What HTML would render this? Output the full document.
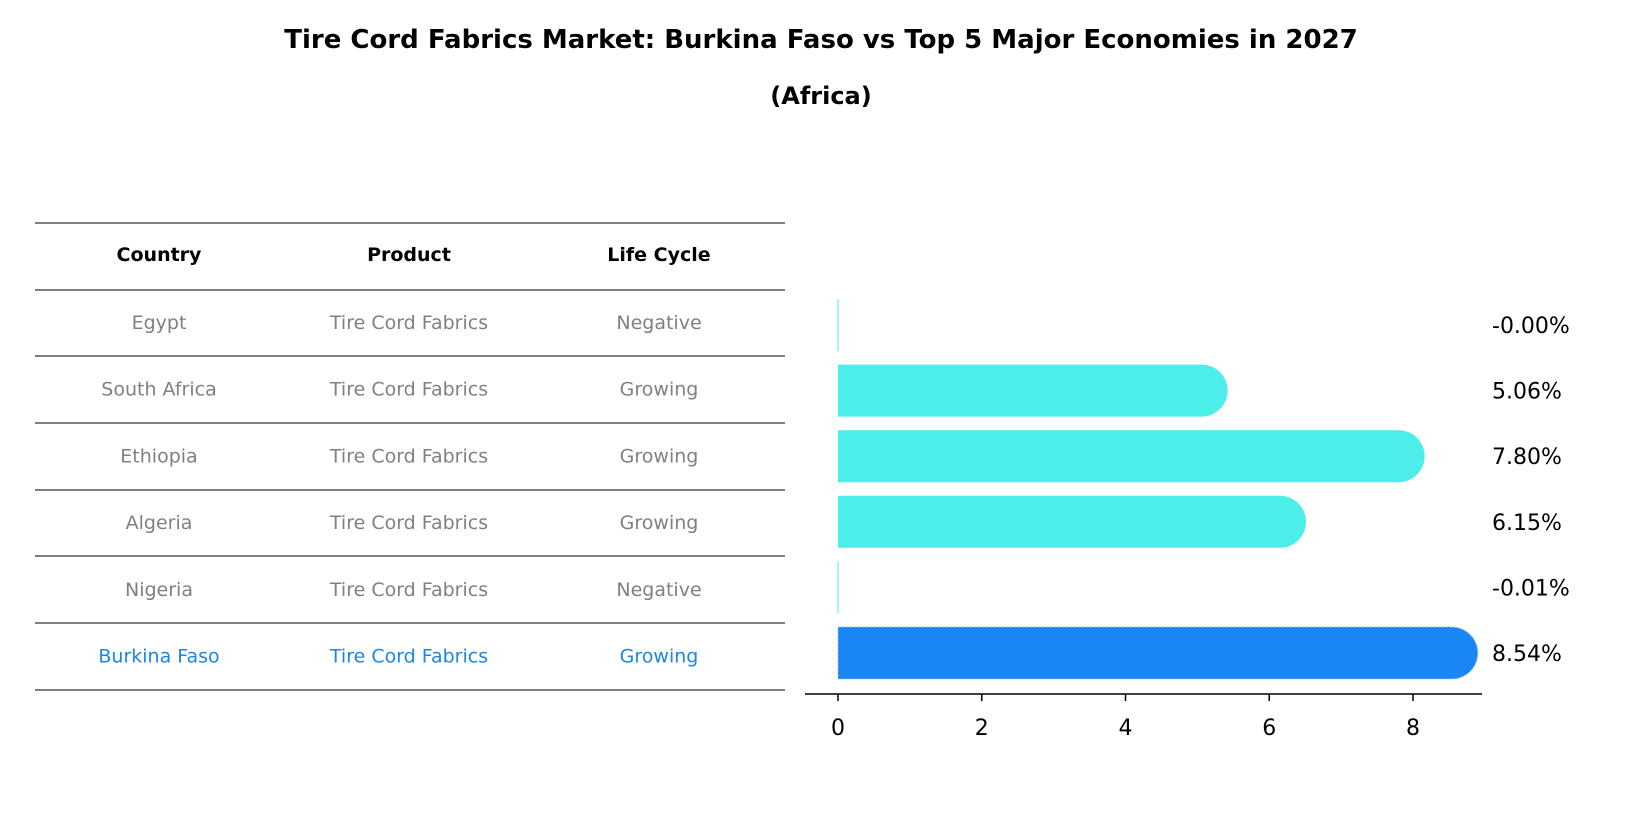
<!DOCTYPE html>
<html><head><meta charset="utf-8"><style>
body{margin:0;background:#fff;font-family:"Liberation Sans","DejaVu Sans",sans-serif;}
svg text{font-family:"DejaVu Sans","Liberation Sans",sans-serif;}
</style></head><body>
<svg width="1643" height="823" xmlns="http://www.w3.org/2000/svg">
<text x="821" y="48" text-anchor="middle" font-size="26" font-weight="bold">Tire Cord Fabrics Market: Burkina Faso vs Top 5 Major Economies in 2027</text>
<text x="821" y="104" text-anchor="middle" font-size="24" font-weight="bold">(Africa)</text>
<g id="table"></g>
<g id="bars"></g>
</svg>
<script>
const countries=["Egypt","South Africa","Ethiopia","Algeria","Nigeria","Burkina Faso"];
const products=["Tire Cord Fabrics","Tire Cord Fabrics","Tire Cord Fabrics","Tire Cord Fabrics","Tire Cord Fabrics","Tire Cord Fabrics"];
const lifecycle=["Negative","Growing","Growing","Growing","Negative","Growing"];
const values=[-0.00,5.06,7.80,6.15,-0.01,8.54];
const valueLabels=["-0.00%","5.06%","7.80%","6.15%","-0.01%","8.54%"];
const ticks=[0,2,4,6,8];
const NS="http://www.w3.org/2000/svg";
function mk(t,a,p){const e=document.createElementNS(NS,t);for(const k in a)e.setAttribute(k,a[k]);p.appendChild(e);return e;}
const tbl=document.getElementById('table');
const cols=[159,409,659];
const lineYs=[223,290,356,423,490,556,623,690];
lineYs.forEach((y,i)=>{const l=mk('line',{x1:35,x2:785,y1:y,y2:y,stroke:'#000','stroke-width':1},tbl);

});
["Country","Product","Life Cycle"].forEach((h,j)=>{const t=mk('text',{x:cols[j],y:261,'text-anchor':'middle','font-size':19,'font-weight':'bold'},tbl);t.textContent=h;

});
countries.forEach((c,i)=>{const y=329+i*66.7;const col=i===5?'#1a86e8':'#808080';
[c,products[i],lifecycle[i]].forEach((v,j)=>{const t=mk('text',{x:cols[j],y:y,'text-anchor':'middle','font-size':19,fill:col},tbl);t.textContent=v;

});});
const g=document.getElementById('bars');
const x0=838,scale=(1413-838)/8;
const X=v=>x0+v*scale;
const rowY=i=>325+i*65.6;
const bh=52;
values.forEach((v,i)=>{const cy=rowY(i);const col=i===5?'#1a86f5':'#4deeea';
const w=Math.max(X(v)-x0,0);
if(w<1){const l=mk('line',{x1:x0,x2:x0,y1:cy-bh/2,y2:cy+bh/2,stroke:col,'stroke-width':1},g);

}
else{const p=mk('path',{d:`M${x0},${cy-bh/2}H${X(v)}A${bh/2},${bh/2} 0 0 1 ${X(v)},${cy+bh/2}H${x0}Z`,fill:col},g);
if(i===5){p.setAttribute('stroke','#9cc8f5');p.setAttribute('stroke-dasharray','2,2');}

}
const t=mk('text',{x:1492,y:cy+8,'font-size':22},g);t.textContent=valueLabels[i];

});
const ax=mk('line',{x1:805,x2:1482,y1:694,y2:694,stroke:'#000','stroke-width':1.5},g);


ticks.forEach(tv=>{const l=mk('line',{x1:X(tv),x2:X(tv),y1:694,y2:701,stroke:'#000','stroke-width':1.5},g);


const t=mk('text',{x:X(tv),y:735,'text-anchor':'middle','font-size':22},g);t.textContent=tv;

});
</script>
</body></html>
